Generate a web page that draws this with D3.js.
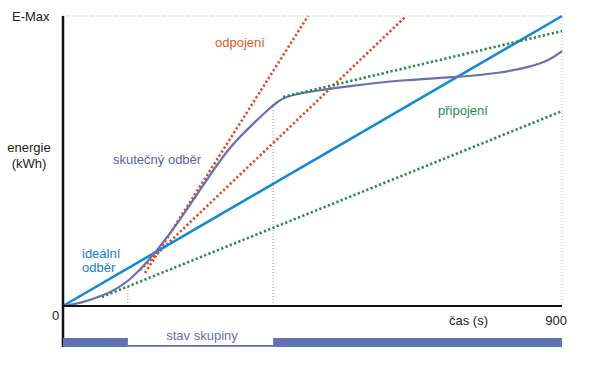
<!DOCTYPE html>
<html><head><meta charset="utf-8">
<script src="https://cdn.jsdelivr.net/npm/d3@7"></script>
<style>
html,body{margin:0;padding:0;background:#fff;}
text{font-family:"Liberation Sans",Arial,sans-serif;font-size:13px;}
</style></head>
<body><svg id="c" width="600" height="366"></svg>
<script>
// ---- data (time in s, energy in % of E-Max) ----
const tMax = 900;
const eMax = 100;
const idealLine = [[0, 0], [900, 100]];
const actualCurve = [[0,0],[31,1.0],[67,3.1],[117,7.6],[171,19.3],[211,29.7],[247,40],[298,54.5],[337,61.7],[370,67.8],[388,70.6],[400,71.9],[420,73.0],[451,74.1],[518,75.9],[608,77.9],[716,79],[788,80.3],[842,82.4],[878,84.8],[900,87.9]];
const disconnectSteep = [[148, 11.4], [442, 100]];
const disconnectFlat = [[139, 12.4], [619, 100]];
const connectLow = [[70, 3.1], [900, 67.2]];
const connectHigh = [[397, 72.1], [900, 94.8]];
const switchTimes = [117, 379];
const switchTops = [6.7, 69];
const groupState = [{start:0, end:117, on:1}, {start:117, end:379, on:0}, {start:379, end:900, on:1}];
const yTickLabels = ["0", "E-Max"];
const xTickLabel = "900";

const svg = d3.select("#c");
const x = d3.scaleLinear().domain([0, tMax]).range([63, 562]);
const y = d3.scaleLinear().domain([0, eMax]).range([306, 16]);

const C = {blue:"#1689d6", purple:"#6a6fae", orange:"#e2461c", green:"#1b8c4b", bar:"#6273b4", grid:"#b5b5b5"};

// reference lines
svg.append("line").attr("x1", x(0)).attr("x2", x(tMax)).attr("y1", y(eMax)).attr("y2", y(eMax))
  .attr("stroke", C.grid).attr("stroke-width", 1).attr("stroke-dasharray", "1,2");
svg.append("line").attr("x1", x(tMax)).attr("x2", x(tMax)).attr("y1", y(0)).attr("y2", y(eMax))
  .attr("stroke", C.grid).attr("stroke-width", 1).attr("stroke-dasharray", "1,2");
switchTimes.forEach((t, i) => {
  svg.append("line").attr("x1", x(t)).attr("x2", x(t)).attr("y1", y(0)).attr("y2", y(switchTops[i]))
    .attr("stroke", "#999").attr("stroke-width", 1).attr("stroke-dasharray", "1,2");
});

const line = d3.line().x(d => x(d[0])).y(d => y(d[1]));

svg.append("path").attr("d", line(connectLow)).attr("fill","none").attr("stroke", C.green)
  .attr("stroke-width", 2.6).attr("stroke-dasharray", "2.2,2.4");
svg.append("path").attr("d", line(disconnectSteep)).attr("fill","none").attr("stroke", C.orange)
  .attr("stroke-width", 2.6).attr("stroke-dasharray", "2.2,2.4");
svg.append("path").attr("d", line(disconnectFlat)).attr("fill","none").attr("stroke", C.orange)
  .attr("stroke-width", 2.6).attr("stroke-dasharray", "2.2,2.4");
svg.append("path").attr("d", line(idealLine)).attr("fill","none").attr("stroke", C.blue)
  .attr("stroke-width", 2.6);
svg.append("path").attr("d", d3.line().x(d => x(d[0])).y(d => y(d[1])).curve(d3.curveBasis)(actualCurve))
  .attr("fill","none").attr("stroke", C.purple).attr("stroke-width", 2.2);
svg.append("path").attr("d", line(connectHigh)).attr("fill","none").attr("stroke", C.green)
  .attr("stroke-width", 2.6).attr("stroke-dasharray", "2.2,2.4");

// axes
svg.append("line").attr("x1", x(0)).attr("x2", x(0)).attr("y1", y(eMax)).attr("y2", 347)
  .attr("stroke", "#111").attr("stroke-width", 2.5);
svg.append("line").attr("x1", x(0)).attr("x2", x(tMax)).attr("y1", y(0)).attr("y2", y(0))
  .attr("stroke", "#111").attr("stroke-width", 2);

// group state bar
groupState.forEach(s => {
  if (s.on) {
    svg.append("rect").attr("x", x(s.start)).attr("y", 338).attr("width", x(s.end) - x(s.start)).attr("height", 9)
      .attr("fill", C.bar);
  } else {
    svg.append("rect").attr("x", x(s.start)).attr("y", 345).attr("width", x(s.end) - x(s.start)).attr("height", 1.8)
      .attr("fill", C.bar);
  }
});

// texts
const txt = (s, tx, ty, col, anchor) => svg.append("text").attr("x", tx).attr("y", ty)
  .attr("fill", col).attr("text-anchor", anchor || "start").text(s);
txt(yTickLabels[1], 12, 21, "#222");
txt(yTickLabels[0], 52, 320, "#222");
txt(xTickLabel, 567, 325, "#222", "end");
txt("čas (s)", 449, 325, "#222");
txt("energie", 29, 152, "#222", "middle");
txt("(kWh)", 29, 168, "#222", "middle");
txt("stav skupiny", 202, 340, C.purple, "middle");
txt("odpojení", 215, 47, "#e05526");
txt("skutečný odběr", 113, 164, "#5c5ea2");
txt("ideální", 82, 258, "#1780c8");
txt("odběr", 82, 272, "#1780c8");
txt("připojení", 438, 115, "#1d8c4f");
</script></body></html>
